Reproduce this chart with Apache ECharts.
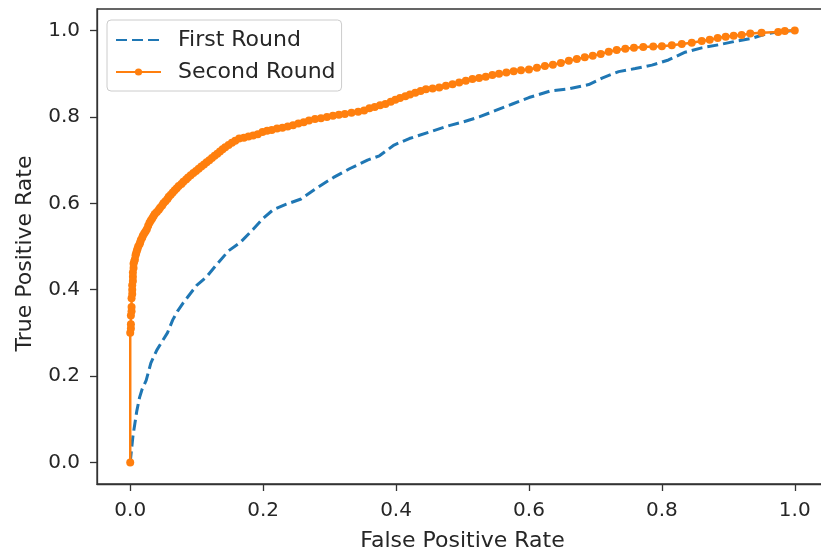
<!DOCTYPE html>
<html>
<head>
<meta charset="utf-8">
<script src="https://cdn.jsdelivr.net/npm/echarts@6/dist/echarts.min.js"></script>
<style>
  html, body { margin: 0; padding: 0; background: #fff; }
  #chart { width: 821px; height: 554px; }
</style>
</head>
<body>
<div id="chart"></div>
<script>
// tick labels
const tickValues = [0, 0.2, 0.4, 0.6, 0.8, 1.0];

// ROC points [fpr, tpr]
const firstRound = [
  [0, 0], [0.002, 0.03], [0.004, 0.06], [0.007, 0.09], [0.010, 0.12], [0.014, 0.15],
  [0.018, 0.17], [0.024, 0.19], [0.031, 0.23], [0.040, 0.26], [0.048, 0.28], [0.056, 0.30],
  [0.064, 0.33], [0.071, 0.35], [0.080, 0.37], [0.090, 0.39], [0.100, 0.41], [0.115, 0.43],
  [0.131, 0.46], [0.148, 0.49], [0.166, 0.51], [0.185, 0.54], [0.200, 0.565], [0.215, 0.585],
  [0.235, 0.598], [0.257, 0.61], [0.280, 0.635], [0.306, 0.66], [0.330, 0.68], [0.357, 0.70],
  [0.375, 0.71], [0.397, 0.735], [0.42, 0.75], [0.45, 0.765], [0.48, 0.78], [0.50, 0.788],
  [0.525, 0.80], [0.55, 0.815], [0.575, 0.83], [0.60, 0.845], [0.632, 0.86], [0.66, 0.865],
  [0.69, 0.875], [0.71, 0.89], [0.735, 0.905], [0.76, 0.912], [0.785, 0.92], [0.81, 0.932],
  [0.835, 0.95], [0.86, 0.96], [0.885, 0.967], [0.91, 0.975], [0.935, 0.982], [0.958, 0.993],
  [0.975, 0.997], [1.0, 1.0]
];

const secondRound = [
  [0, 0], [0, 0.30], [0.001, 0.31], [0.001, 0.32], [0.001, 0.34], [0.002, 0.35], [0.002, 0.36],
  [0.002, 0.38], [0.003, 0.39], [0.003, 0.40], [0.003, 0.41], [0.004, 0.42], [0.004, 0.43],
  [0.004, 0.44], [0.005, 0.45], [0.005, 0.46], [0.006, 0.465], [0.007, 0.47], [0.008, 0.48],
  [0.009, 0.485], [0.010, 0.49], [0.011, 0.495], [0.012, 0.50], [0.014, 0.505], [0.015, 0.51],
  [0.016, 0.515], [0.018, 0.52], [0.019, 0.525], [0.021, 0.53], [0.023, 0.535], [0.025, 0.54],
  [0.027, 0.548], [0.029, 0.555], [0.031, 0.56], [0.033, 0.565], [0.035, 0.57], [0.037, 0.575],
  [0.040, 0.58], [0.043, 0.585], [0.045, 0.59], [0.048, 0.595], [0.050, 0.60], [0.053, 0.605],
  [0.056, 0.61], [0.058, 0.615], [0.061, 0.62], [0.064, 0.625], [0.067, 0.63], [0.070, 0.635],
  [0.073, 0.64], [0.077, 0.645], [0.080, 0.65], [0.084, 0.655], [0.087, 0.66], [0.091, 0.665],
  [0.095, 0.67], [0.099, 0.675], [0.103, 0.68], [0.107, 0.685], [0.111, 0.69], [0.115, 0.695],
  [0.119, 0.70], [0.123, 0.705], [0.127, 0.71], [0.131, 0.715], [0.135, 0.72], [0.139, 0.725],
  [0.143, 0.73], [0.148, 0.735], [0.153, 0.74], [0.158, 0.745], [0.164, 0.75], [0.171, 0.752],
  [0.178, 0.755], [0.185, 0.757], [0.192, 0.76], [0.199, 0.765], [0.206, 0.768], [0.213, 0.77],
  [0.221, 0.773], [0.229, 0.775], [0.237, 0.778], [0.245, 0.781], [0.253, 0.785], [0.261, 0.788],
  [0.269, 0.792], [0.278, 0.795], [0.287, 0.797], [0.296, 0.80], [0.305, 0.803], [0.314, 0.805],
  [0.323, 0.807], [0.333, 0.81], [0.343, 0.812], [0.352, 0.815], [0.360, 0.82], [0.368, 0.823],
  [0.376, 0.827], [0.384, 0.83], [0.392, 0.835], [0.399, 0.84], [0.406, 0.844], [0.414, 0.848],
  [0.421, 0.852], [0.429, 0.856], [0.437, 0.86], [0.445, 0.864], [0.455, 0.866], [0.465, 0.868],
  [0.475, 0.872], [0.485, 0.876], [0.495, 0.88], [0.505, 0.884], [0.515, 0.888], [0.525, 0.89],
  [0.535, 0.893], [0.545, 0.897], [0.555, 0.90], [0.566, 0.903], [0.577, 0.906], [0.588, 0.908],
  [0.600, 0.91], [0.612, 0.914], [0.624, 0.918], [0.636, 0.921], [0.648, 0.925], [0.660, 0.93],
  [0.672, 0.934], [0.684, 0.938], [0.696, 0.942], [0.708, 0.946], [0.72, 0.951], [0.732, 0.955],
  [0.745, 0.958], [0.758, 0.96], [0.772, 0.962], [0.787, 0.963], [0.80, 0.964], [0.815, 0.966],
  [0.83, 0.969], [0.845, 0.972], [0.86, 0.976], [0.872, 0.979], [0.884, 0.983], [0.896, 0.986],
  [0.908, 0.988], [0.92, 0.99], [0.933, 0.993], [0.95, 0.995], [0.975, 0.997], [0.985, 0.999],
  [1.0, 1.0]
];

const FONT = 'DejaVu Sans';
const TEXT = '#262626';

const chart = echarts.init(document.getElementById('chart'), null, { renderer: 'canvas' });

function axis(name, isX) {
  return {
    type: 'value',
    min: -0.05,
    max: 1.05,
    name: name,
    nameLocation: 'middle',
    nameGap: isX ? 46 : 61,
    nameTextStyle: {
      fontFamily: FONT, fontSize: 22, color: TEXT,
      padding: isX ? 0 : [0, 14, 0, 0]
    },
    splitLine: { show: false },
    axisLine: { show: true, onZero: false, lineStyle: { color: '#333', width: 1.3 } },
    axisTick: {
      show: true, length: 7, customValues: tickValues,
      lineStyle: { color: '#333', width: 1.3 }
    },
    axisLabel: {
      customValues: tickValues,
      margin: 17,
      fontFamily: FONT, fontSize: 20, color: TEXT,
      formatter: v => v.toFixed(1)
    }
  };
}

chart.setOption({
  animation: false,
  grid: {
    left: 97, top: 9, width: 731, bottom: 70,
    outerBoundsMode: 'none',
    containLabel: false,
    show: true, borderColor: '#333', borderWidth: 1.3, backgroundColor: '#fff'
  },
  xAxis: axis('False Positive Rate', true),
  yAxis: axis('True Positive Rate', false),
  legend: {
    orient: 'vertical',
    left: 107, top: 20,
    padding: [9, 6, 8, 8],
    itemWidth: 45, itemHeight: 9, itemGap: 10,
    backgroundColor: 'rgba(255,255,255,0.8)',
    borderColor: '#cccccc', borderWidth: 1, borderRadius: 4,
    textStyle: { fontFamily: FONT, fontSize: 22, color: TEXT, padding: [0, 0, 0, 12] },
    data: [
      { name: 'First Round', itemStyle: { opacity: 0 } },
      { name: 'Second Round' }
    ]
  },
  series: [
    {
      name: 'First Round',
      type: 'line',
      data: firstRound,
      showSymbol: false,
      symbol: 'none',
      color: '#1f77b4',
      lineStyle: { width: 3, type: [11, 5], color: '#1f77b4' },
      z: 2
    },
    {
      name: 'Second Round',
      type: 'line',
      data: secondRound,
      symbol: 'circle',
      symbolSize: 8,
      showAllSymbol: true,
      color: '#ff7f0e',
      itemStyle: { color: '#ff7f0e' },
      lineStyle: { width: 2.5, color: '#ff7f0e' },
      z: 3
    }
  ]
});
</script>
</body>
</html>
